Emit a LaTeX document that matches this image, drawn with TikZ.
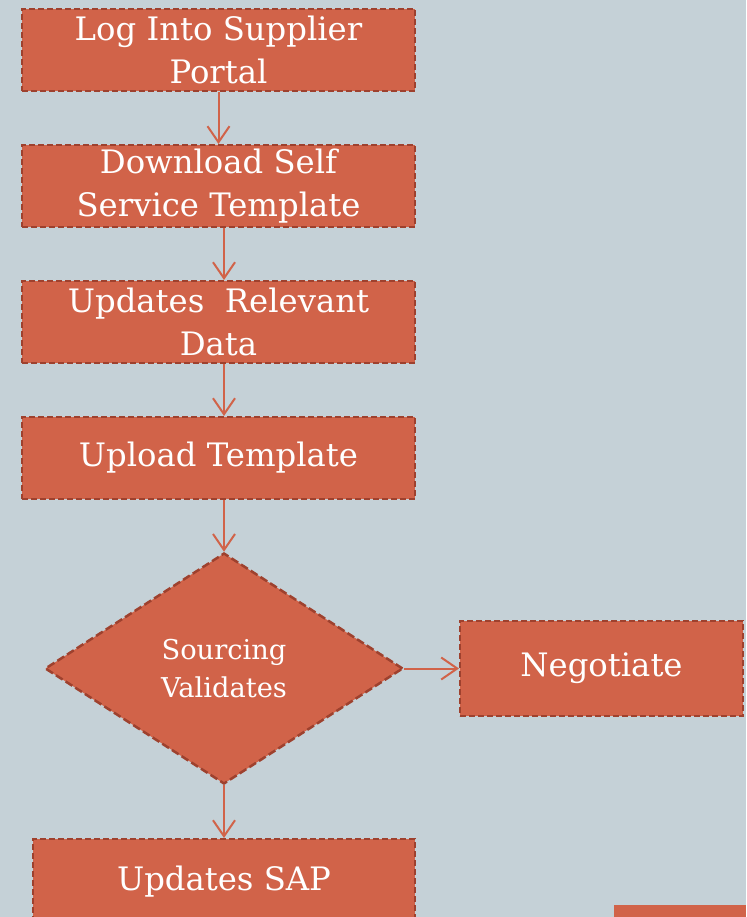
\documentclass[tikz,border=0pt]{standalone}
\usepackage{fontspec}
\setmainfont{DejaVu Serif}
\usetikzlibrary{shapes.geometric,arrows.meta}
\definecolor{bgblue}{HTML}{C5D1D7}
\definecolor{boxfill}{HTML}{D16349}
\definecolor{boxline}{HTML}{9E412E}
\tikzset{
  stepbox/.style={rectangle, draw=boxline, fill=boxfill, line width=2pt, dash pattern=on 6pt off 3pt,
    text=white, align=center, inner sep=0pt, minimum width=393pt, minimum height=82pt,
    font=\fontsize{32.3}{43}\selectfont},
  decision/.style={diamond, draw=boxline, fill=boxfill, line width=2.5pt, dash pattern=on 8pt off 3.5pt,
    text=white, align=center, inner sep=0pt, minimum width=358pt, minimum height=231pt,
    font=\fontsize{27.3}{38}\selectfont},
  flow/.style={draw=boxfill, line width=2pt, -{Straight Barb[length=16pt,width=22pt,line width=2pt]}}
}
\begin{document}
\begin{tikzpicture}[x=1pt,y=-1pt]
                \fill[bgblue] (0,0) rectangle (746,917);
                \clip (0,0) rectangle (746,917);
                \node[stepbox] (login) at (218.5,50) {Log Into Supplier\\Portal};
                \node[stepbox] (download) at (218.5,186) {Download Self\\Service Template};
                \node[stepbox] (update) at (218.5,322) {Updates~ Relevant\\Data};
                \node[stepbox] (upload) at (218.5,458) {Upload Template};
                \node[decision] (validate) at (224,668.5) {Sourcing\\Validates};
                \node[stepbox, minimum width=283pt, minimum height=95pt] (negotiate) at (601.5,668.5) {Negotiate};
                \node[stepbox, minimum width=382pt, minimum height=86pt] (sap) at (224,882) {Updates SAP};
                \fill[boxfill] (614,905) rectangle (746,930);
                \draw[flow] (login) -- (download);
                \draw[flow] (download.south -| validate) -- (update.north -| validate);
                \draw[flow] (update.south -| validate) -- (upload.north -| validate);
                \draw[flow] (upload.south -| validate) -- (validate.north);
                \draw[flow] (validate.east) -- (negotiate.west);
                \draw[flow] (validate.south) -- (sap.north);
            \end{tikzpicture}
\end{document}
